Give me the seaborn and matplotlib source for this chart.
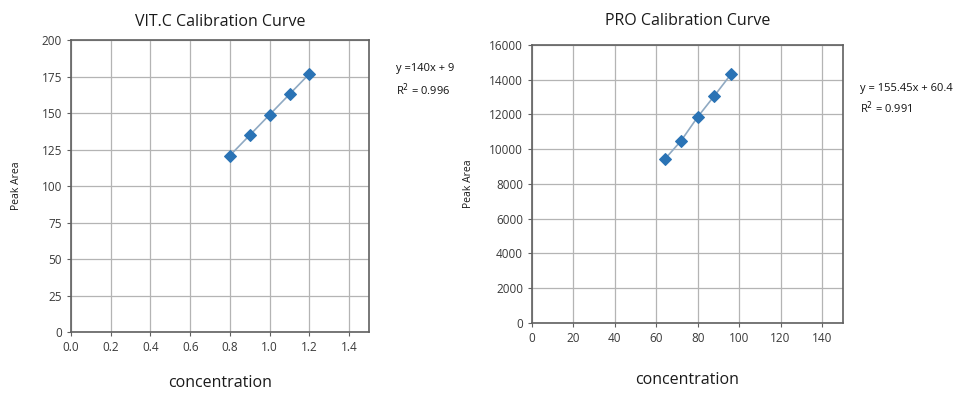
import matplotlib
matplotlib.use("Agg")
import matplotlib.pyplot as plt
import seaborn as sns

# Calibration data
vitc_conc = [0.8, 0.9, 1.0, 1.1, 1.2]
vitc_area = [121, 135, 149, 163, 177]
pro_conc = [64, 72, 80, 88, 96]
pro_area = [9400, 10480, 11850, 13060, 14300]

vitc_xticks = [0.0, 0.2, 0.4, 0.6, 0.8, 1.0, 1.2, 1.4]
vitc_yticks = [0, 25, 50, 75, 100, 125, 150, 175, 200]
pro_xticks = [0, 20, 40, 60, 80, 100, 120, 140]
pro_yticks = [0, 2000, 4000, 6000, 8000, 10000, 12000, 14000, 16000]

sns.set_style("whitegrid", {"grid.color": "#b4b4b4", "axes.edgecolor": "#606060"})
plt.rcParams['font.family'] = ['Open Sans', 'DejaVu Sans']

fig = plt.figure(figsize=(9.77, 3.94), dpi=100)
ax1 = fig.add_axes([0.0727, 0.157, 0.305, 0.741])
ax2 = fig.add_axes([0.5445, 0.181, 0.318, 0.705])


def draw(ax, x, y, xticks, yticks, xlim, ylim, title, title_pad, xlab_pad):
    sns.lineplot(x=x, y=y, ax=ax, color='#8fa9c2', linewidth=1.2,
                 marker='D', markersize=6.5, markerfacecolor='#2a73b5',
                 markeredgecolor='#2a73b5')
    ax.set_xlim(*xlim)
    ax.set_ylim(*ylim)
    ax.set_xticks(xticks)
    ax.set_yticks(yticks)
    ax.tick_params(axis='both', which='both', length=3, color='#606060',
                   labelsize=8.5, labelcolor='#3a3a3a', bottom=True, left=True)
    for s in ax.spines.values():
        s.set_linewidth(1.2)
    ax.grid(True, linewidth=0.9)
    ax.set_title(title, fontsize=11.5, pad=title_pad, color='#1a1a1a')
    ax.set_ylabel('Peak Area', fontsize=7.5, color='#1a1a1a')
    ax.set_xlabel('concentration', fontsize=11.5, labelpad=xlab_pad, color='#1a1a1a')


draw(ax1, vitc_conc, vitc_area, vitc_xticks, vitc_yticks, (0, 1.5), (0, 200),
     'VIT.C Calibration Curve', 10, 15)
ax1.set_xticklabels([f"{v:.1f}" for v in vitc_xticks])
ax1.yaxis.set_label_coords(-0.165, 0.5)

draw(ax2, pro_conc, pro_area, pro_xticks, pro_yticks, (0, 150), (0, 16000),
     'PRO Calibration Curve', 14, 20)
ax2.yaxis.set_label_coords(-0.185, 0.5)

fig.text(0.405, 0.82, 'y =140x + 9', fontsize=8, color='#111111')
fig.text(0.405, 0.76, 'R$^2$ = 0.996', fontsize=8, color='#111111')
fig.text(0.88, 0.77, 'y = 155.45x + 60.4', fontsize=8, color='#111111')
fig.text(0.88, 0.715, 'R$^2$ = 0.991', fontsize=8, color='#111111')

fig.savefig('out.png', dpi=100)
